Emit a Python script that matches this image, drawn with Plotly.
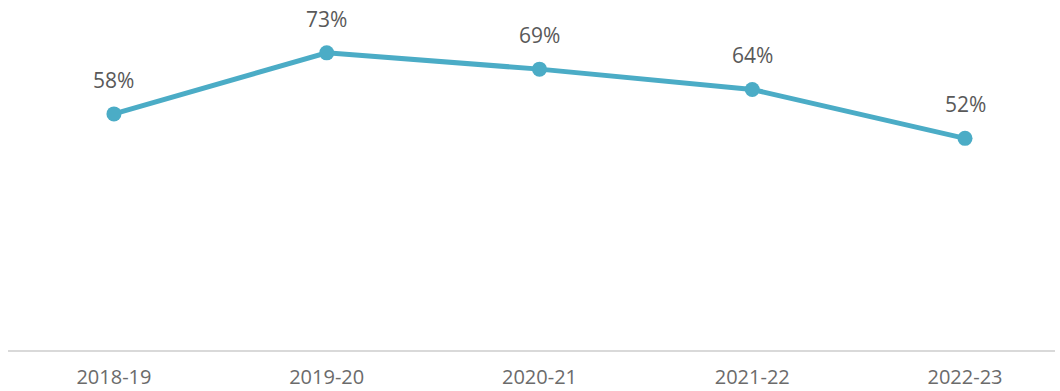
import plotly.graph_objects as go

years = ["2018-19", "2019-20", "2020-21", "2021-22", "2022-23"]
share = [58, 73, 69, 64, 52]
labels = [f"{v}%" for v in share]

line_color = "#4BACC6"

fig = go.Figure()
fig.add_trace(go.Scatter(
    x=list(range(len(years))),
    y=share,
    mode="lines+markers",
    line=dict(color=line_color, width=5),
    marker=dict(color=line_color, size=15),
    hoverinfo="skip",
    showlegend=False,
))

for i, (v, t) in enumerate(zip(share, labels)):
    fig.add_annotation(
        x=i, y=v, text=t, showarrow=False, yshift=34,
        font=dict(family="Open Sans", size=21, color="#595959"),
    )

fig.update_layout(
    width=1060, height=391,
    margin=dict(l=8, r=5, t=4, b=41),
    paper_bgcolor="white", plot_bgcolor="white",
    xaxis=dict(
        range=[-0.498, 4.423], automargin=False,
        tickmode="array", tickvals=list(range(len(years))), ticktext=years,
        showgrid=False, zeroline=False,
        showline=True, linecolor="#D9D9D9", linewidth=2,
        ticks="", ticklabelstandoff=8,
        tickfont=dict(family="Open Sans", size=20, color="#6B6B6B"),
    ),
    yaxis=dict(
        range=[0, 85], visible=False, showgrid=False, zeroline=False,
        automargin=False,
    ),
)

fig.write_html("out.html")
